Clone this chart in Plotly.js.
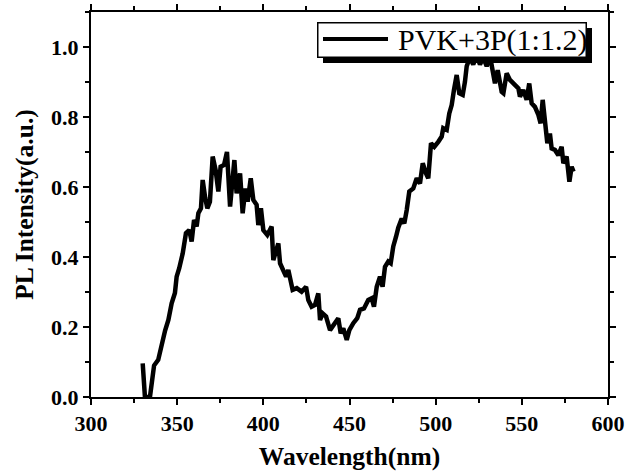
<!DOCTYPE html>
<html>
<head>
<meta charset="utf-8">
<script src="https://cdn.plot.ly/plotly-3.0.1.min.js"></script>
<style>html,body{margin:0;padding:0;background:#fff;}#chart{width:626px;height:475px;}</style>
</head>
<body>
<div id="chart"></div>
<script>
const seriesName = "PVK+3P(1:1.2)";
const wavelength = [
330,331.3,334.2,336.6,339,341,343,344.9,346.8,348.7,349.7,351.2,353.2,355.1,357,358.4,359.8,361.3,362.3,363.8,
364.8,366.3,367.5,369,370.6,372.3,373.9,375.2,377.2,378.9,380.7,383.2,384.5,386.5,388,389.6,390.9,392.7,394.2,396.1,
397.1,398.6,400,402.3,404.8,405.8,408.7,409.7,412,413.2,414.5,417,419.4,422.2,424.8,426.1,428,430,431.9,432.9,
434.4,436.4,438.7,441,443.5,444.9,446.4,448.4,449.9,452.2,454.5,456.1,458.4,460.9,462.9,464.2,465.8,467.7,469.2,470.6,
472.5,473.9,475.4,477,478.3,480.3,481.8,483.2,484.7,487,489,490.9,492.5,494.4,495.7,497.3,499.2,501.5,503.5,504.4,
506.4,507.9,509.3,510.6,512.2,513.7,515.7,517,518,519.9,521.8,523.8,525.7,527.6,529.6,531.5,533.5,534.4,536,538.3,
539.3,541.2,543.1,546,548,548.9,550.8,552.8,554.3,555.7,557.6,559.6,560.9,562.1,564,564.8,566.3,567.3,569.2,571.2,
573.1,574.1,576,577.6,578.9,580
];
const intensity = [
0.096,0.0,0.0,0.09,0.106,0.153,0.19,0.22,0.268,0.297,0.344,0.368,0.41,0.468,0.477,0.444,0.506,0.487,0.525,0.539,
0.62,0.568,0.539,0.558,0.687,0.649,0.587,0.658,0.663,0.70,0.544,0.677,0.582,0.639,0.525,0.596,0.558,0.625,0.563,0.549,
0.491,0.539,0.477,0.463,0.487,0.391,0.439,0.382,0.358,0.344,0.363,0.306,0.311,0.301,0.315,0.277,0.258,0.263,0.296,0.22,
0.239,0.23,0.191,0.206,0.225,0.182,0.196,0.163,0.191,0.211,0.225,0.249,0.253,0.277,0.282,0.258,0.315,0.344,0.315,0.372,
0.387,0.382,0.43,0.458,0.484,0.51,0.496,0.534,0.587,0.596,0.625,0.61,0.668,0.639,0.625,0.725,0.715,0.729,0.744,0.768,
0.763,0.81,0.834,0.877,0.92,0.868,0.863,0.901,0.945,0.97,0.95,0.975,0.95,0.97,0.945,0.975,0.925,0.896,0.934,0.872,
0.868,0.925,0.906,0.891,0.882,0.858,0.877,0.849,0.896,0.839,0.829,0.806,0.782,0.849,0.772,0.725,0.753,0.71,0.706,0.691,
0.715,0.668,0.687,0.615,0.658,0.644
];
const xTickVals = [300,350,400,450,500,550,600];
const yTickVals = [0.0,0.2,0.4,0.6,0.8,1.0];

const serif = "Liberation Serif, Times New Roman, serif";
const trace = {
  x: wavelength, y: intensity, mode: "lines",
  line: {color: "#000", width: 4.5}
};
function axis(ticks, minorStep, range, fmt, title, standoff) {
  return {
    range: range, showgrid: false, zeroline: false,
    showline: true, linecolor: "#000", linewidth: 2, mirror: "ticks",
    tickmode: "linear", tick0: ticks[0], dtick: ticks[1] - ticks[0], tickformat: fmt,
    ticks: "outside", ticklen: 6, tickwidth: 2, tickcolor: "#000",
    tickfont: {family: serif, size: 22, color: "#000", weight: "bold"},
    minor: {dtick: minorStep, ticks: "outside", ticklen: 4, tickwidth: 2, tickcolor: "#000", showgrid: false},
    title: {text: title, font: {family: serif, size: 25.5, color: "#000", weight: "bold"}, standoff: standoff}
  };
}
function box(x, y, w, h, fill, border) {
  return {xref: "paper", yref: "paper", x: x, y: y, xanchor: "left", yanchor: "top",
    text: " ", showarrow: false, font: {size: 1}, width: w, height: h, borderpad: 0,
    bgcolor: fill, bordercolor: "#000", borderwidth: border};
}
const layout = {
  width: 626, height: 475,
  margin: {l: 91, r: 18, t: 12, b: 78},
  paper_bgcolor: "#fff", plot_bgcolor: "#fff",
  xaxis: axis(xTickVals, 25, [300, 600], "d", "Wavelength(nm)", 12),
  yaxis: axis(yTickVals, 0.1, [0, 1.1], ".1f", "PL Intensity(a.u.)", 10),
  showlegend: false,
  annotations: [
    box(0.4487, 0.9584, 269, 35, "#000", 0),
    box(0.4371, 0.9740, 267, 33, "#fff", 1.5),
    box(0.4487, 0.9351, 65, 4, "#000", 0),
    {xref: "paper", yref: "paper", x: 0.590, y: 0.927, xanchor: "left", yanchor: "middle",
     text: seriesName, showarrow: false, font: {family: serif, size: 30, color: "#000"}}
  ]
};
Plotly.newPlot("chart", [trace], layout, {displayModeBar: false, staticPlot: true});
</script>
</body>
</html>
